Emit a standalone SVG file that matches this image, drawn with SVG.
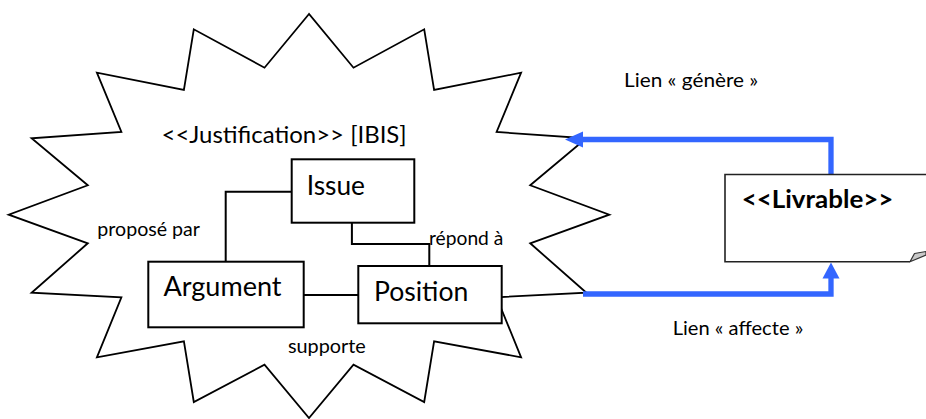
<svg xmlns="http://www.w3.org/2000/svg" width="926" height="419" viewBox="0 0 926 419">
  <style>
    .t { font-family: Lato, "Liberation Sans", sans-serif; fill: #000; }
    .box { fill: #fff; stroke: #000; stroke-width: 2; }
    .blk { fill: none; stroke: #000; stroke-width: 2; }
    .blue { fill: none; stroke: #3366FF; stroke-width: 5.3; }
    .bluehead { fill: #3366FF; stroke: none; }
  </style>
  <rect x="0" y="0" width="926" height="419" fill="#fff"/>

  <g id="justification">
    <polygon fill="#fff" stroke="#000" stroke-width="1.8" stroke-linejoin="miter" points="309,14 264.5,67.7 193.8,29.3 183.9,90 96.9,72.7 121.4,132 31.6,138.3 87.8,185.3 8.7,214.7 87.8,243.3 31.6,292.7 121.4,297.3 96.9,357.3 183.9,341.3 193.8,402 264.5,364.7 309,418 353.5,364.7 424.2,402 434.1,341.3 521.1,357.3 496.6,297.3 586.4,292.7 530.2,243.3 609.3,214.7 530.2,185.3 586.4,138.3 496.6,132 521.1,72.7 434.1,90 424.2,29.3 353.5,67.7"/>
    <text class="t" x="161.5" y="143" font-size="24" textLength="245" lengthAdjust="spacingAndGlyphs">&lt;&lt;Justification&gt;&gt; [IBIS]</text>
  </g>

  <g id="connectors">
    <polyline class="blk" points="291.7,191.7 225.7,191.7 225.7,262"/>
    <polyline class="blk" points="351.9,222.7 351.9,244 429.3,244 429.3,266"/>
    <line class="blk" x1="303.7" y1="295" x2="358.3" y2="295"/>
    <polyline class="blue" points="831,174.5 831,139.5 580,139.5"/>
    <polygon class="bluehead" points="565,139.5 583,131.5 583,147.5"/>
    <polyline class="blue" points="583,294 831,294 831,276"/>
    <polygon class="bluehead" points="831,262.5 822.5,278.5 839.5,278.5"/>
    <text class="t" x="97.3" y="236" font-size="19" textLength="102.7" lengthAdjust="spacingAndGlyphs">proposé par</text>
    <text class="t" x="429" y="245" font-size="19" textLength="74.3" lengthAdjust="spacingAndGlyphs">répond à</text>
    <text class="t" x="287.9" y="353.3" font-size="19" textLength="77.9" lengthAdjust="spacingAndGlyphs">supporte</text>
    <text class="t" x="624" y="86.7" font-size="19" textLength="134.3" lengthAdjust="spacingAndGlyphs">Lien «  génère »</text>
    <text class="t" x="672.7" y="335" font-size="19" textLength="130.6" lengthAdjust="spacingAndGlyphs">Lien « affecte »</text>
  </g>

  <g id="issue">
    <rect class="box" x="291.7" y="159.3" width="122.6" height="63.4"/>
    <text class="t" x="306.7" y="195" font-size="26" textLength="58.3" lengthAdjust="spacingAndGlyphs">Issue</text>
  </g>

  <g id="argument">
    <rect class="box" x="148.3" y="261.7" width="155.4" height="65.6"/>
    <text class="t" x="163.5" y="296" font-size="26" textLength="118" lengthAdjust="spacingAndGlyphs">Argument</text>
  </g>

  <g id="position">
    <rect class="box" x="358.3" y="266" width="143.4" height="57.3"/>
    <text class="t" x="374" y="301" font-size="26" textLength="94.3" lengthAdjust="spacingAndGlyphs">Position</text>
  </g>

  <g id="livrable">
    <path d="M930,174.5 H725 V261.7 H910" fill="#fff" stroke="#222" stroke-width="1.6"/>
    <polygon points="910,261.7 914.5,253.5 926,251.5 926,255" fill="#c8c8c8" stroke="#333" stroke-width="1.2" stroke-linejoin="round"/>
    <text class="t" x="741.7" y="207.5" font-size="25" font-weight="bold" textLength="151.7" lengthAdjust="spacingAndGlyphs">&lt;&lt;Livrable&gt;&gt;</text>
  </g>
</svg>
